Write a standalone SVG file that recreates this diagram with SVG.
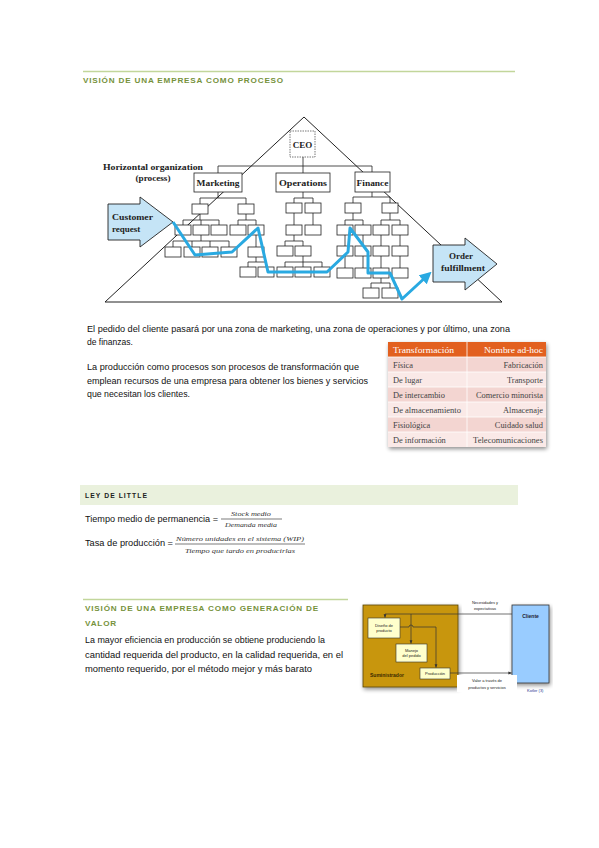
<svg xmlns="http://www.w3.org/2000/svg" width="599" height="848" viewBox="0 0 599 848">
<style>
.title{font-family:"Liberation Sans",Arial,sans-serif;font-size:8px;font-weight:bold;fill:#76923c;letter-spacing:0.8px}
.body{font-family:"Liberation Sans",Arial,sans-serif;font-size:8.8px;fill:#111}
.serifb{font-family:"Liberation Serif","Times New Roman",serif;font-weight:bold;fill:#222}
.b{fill:#fff;stroke:#222;stroke-width:0.8}
.c{stroke:#222;stroke-width:0.8;fill:none}
.tb{font-family:"Liberation Serif","Times New Roman",serif;font-size:8.4px;fill:#444}
.th{font-family:"Liberation Serif","Times New Roman",serif;font-size:8.8px;fill:#fff}
.fr{font-family:"Liberation Serif","Times New Roman",serif;font-size:6.4px;font-style:italic;fill:#333}
.tiny{font-family:"Liberation Sans",Arial,sans-serif;font-size:4px;fill:#222;text-anchor:middle}
.ln{stroke:#333;stroke-width:0.7;fill:none}
</style>
<defs>
<marker id="blueArrow" viewBox="0 0 10 10" refX="6" refY="5" markerWidth="4" markerHeight="4" orient="auto">
<path d="M0,0 L10,5 L0,10 Z" fill="#29a9e1"/>
</marker>
<marker id="smallArrow" viewBox="0 0 10 10" refX="9" refY="5" markerWidth="5" markerHeight="5" orient="auto">
<path d="M0,1 L10,5 L0,9 Z" fill="#333"/>
</marker>
<filter id="shadow" x="-10%" y="-10%" width="120%" height="120%">
<feGaussianBlur in="SourceAlpha" stdDeviation="2"/>
<feOffset dx="1" dy="1.5" result="o"/>
<feComponentTransfer><feFuncA type="linear" slope="0.45"/></feComponentTransfer>
<feMerge><feMergeNode/><feMergeNode in="SourceGraphic"/></feMerge>
</filter>
</defs>
<rect width="599" height="848" fill="#fff"/>

<!-- Section 1 header -->
<g id="header1">
<line x1="83" y1="71.5" x2="515" y2="71.5" stroke="#c2d69b" stroke-width="1.6"/>
<text class="title" x="83" y="83" textLength="201" lengthAdjust="spacingAndGlyphs">VISIÓN DE UNA EMPRESA COMO PROCESO</text>
</g>

<!-- Pyramid figure -->
<g id="pyramid">
<path d="M304,117 L105,302 L502,302 Z" fill="none" stroke="#222" stroke-width="1"/>
</g>

<g id="connectors">
<path class="c" d="M303,157 V166 M218,166 H372 M218,166 V173 M303,166 V173 M372,166 V172"/>
<path class="c" d="M218,192 V198 M200,198 H246 M200,198 V204 M246,198 V204
M200,214 V220 M183,220 H219 M183,220 V225 M201,220 V225 M219,220 V225
M246,214 V220 M238,220 H256 M238,220 V225 M256,220 V225
M201,235 V241 M173,241 H229 M173,241 V247 M192,241 V247 M210,241 V247 M229,241 V247
M256,235 V247
M256,257 V262 M248,262 H266 M248,262 V267 M266,262 V267"/>
<path class="c" d="M303,192 V198 M294,198 H313 M294,198 V203 M313,198 V203
M294,213 V225 M313,213 V225
M294,235 V241 M285,241 H303 M285,241 V246 M303,241 V246
M303,256 V262 M285,262 H322 M285,262 V267 M303,262 V267 M322,262 V267"/>
<path class="c" d="M372,192 V197 M353,197 H390 M353,197 V203 M390,197 V203
M353,213 V220 M345,220 H363 M345,220 V225 M363,220 V225
M390,213 V220 M381,220 H400 M381,220 V225 M400,220 V225
M345,235 V246 M363,235 V246 M381,235 V246 M400,235 V246
M345,256 V268 M363,256 V268 M381,256 V268 M400,256 V268
M381,278 V283 M371,283 H390 M371,283 V288 M390,283 V288"/>
</g>

<g id="ceo">
<rect x="290" y="131" width="25" height="26" fill="#fff" stroke="#555" stroke-width="0.8" stroke-dasharray="1.5,1"/>
<text class="serifb" x="302.5" y="148" font-size="9" text-anchor="middle">CEO</text>
</g>
<g id="marketing">
<rect class="b" x="194" y="173" width="48" height="19"/>
<text class="serifb" x="218" y="186" font-size="9" text-anchor="middle" textLength="43" lengthAdjust="spacingAndGlyphs">Marketing</text>
</g>
<g id="operations">
<rect class="b" x="276" y="173" width="54" height="19"/>
<text class="serifb" x="303" y="186" font-size="9" text-anchor="middle" textLength="48" lengthAdjust="spacingAndGlyphs">Operations</text>
</g>
<g id="finance">
<rect class="b" x="355" y="172" width="35" height="20"/>
<text class="serifb" x="372.5" y="186" font-size="9" text-anchor="middle" textLength="32" lengthAdjust="spacingAndGlyphs">Finance</text>
</g>

<g id="org-boxes">
<rect class="b" x="192" y="204" width="16" height="10"/>
<rect class="b" x="238" y="204" width="16" height="10"/>
<rect class="b" x="175" y="225" width="16" height="10"/>
<rect class="b" x="193" y="225" width="16" height="10"/>
<rect class="b" x="211" y="225" width="16" height="10"/>
<rect class="b" x="230" y="225" width="16" height="10"/>
<rect class="b" x="248" y="225" width="16" height="10"/>
<rect class="b" x="165" y="247" width="16" height="10"/>
<rect class="b" x="184" y="247" width="16" height="10"/>
<rect class="b" x="202" y="247" width="16" height="10"/>
<rect class="b" x="221" y="247" width="16" height="10"/>
<rect class="b" x="248" y="247" width="16" height="10"/>
<rect class="b" x="240" y="267" width="16" height="10"/>
<rect class="b" x="258" y="267" width="16" height="10"/>

<rect class="b" x="286" y="203" width="16" height="10"/>
<rect class="b" x="305" y="203" width="16" height="10"/>
<rect class="b" x="286" y="225" width="16" height="10"/>
<rect class="b" x="305" y="225" width="16" height="10"/>
<rect class="b" x="277" y="246" width="16" height="10"/>
<rect class="b" x="295" y="246" width="16" height="10"/>
<rect class="b" x="277" y="267" width="16" height="10"/>
<rect class="b" x="295" y="267" width="16" height="10"/>
<rect class="b" x="314" y="267" width="16" height="10"/>

<rect class="b" x="345" y="203" width="16" height="10"/>
<rect class="b" x="382" y="203" width="16" height="10"/>
<rect class="b" x="337" y="225" width="16" height="10"/>
<rect class="b" x="355" y="225" width="16" height="10"/>
<rect class="b" x="373" y="225" width="16" height="10"/>
<rect class="b" x="392" y="225" width="16" height="10"/>
<rect class="b" x="337" y="246" width="16" height="10"/>
<rect class="b" x="355" y="246" width="16" height="10"/>
<rect class="b" x="373" y="246" width="16" height="10"/>
<rect class="b" x="392" y="246" width="16" height="10"/>
<rect class="b" x="337" y="268" width="16" height="10"/>
<rect class="b" x="355" y="268" width="16" height="10"/>
<rect class="b" x="373" y="268" width="16" height="10"/>
<rect class="b" x="392" y="268" width="16" height="10"/>
<rect class="b" x="363" y="288" width="16" height="10"/>
<rect class="b" x="382" y="288" width="16" height="10"/>
</g>

<g id="horizontal-label">
<text class="serifb" x="103" y="170" font-size="9.2" textLength="100" lengthAdjust="spacingAndGlyphs">Horizontal organization</text>
<text class="serifb" x="153" y="181" font-size="9.2" text-anchor="middle">(process)</text>
</g>

<g id="customer-request">
<path d="M108,204 H140 V197 L173,222 L140,247 V240 H108 Z" fill="#c5e4f6" stroke="#222" stroke-width="0.9"/>
<text class="serifb" x="112" y="220" font-size="9" textLength="41" lengthAdjust="spacingAndGlyphs">Customer</text>
<text class="serifb" x="112" y="232" font-size="9">request</text>
</g>

<g id="order-fulfillment">
<path d="M433,245 H465 V238 L497,264 L465,290 V282 H433 Z" fill="#c5e4f6" stroke="#222" stroke-width="0.9"/>
<text class="serifb" x="461" y="259" font-size="9" text-anchor="middle">Order</text>
<text class="serifb" x="463" y="271" font-size="9" text-anchor="middle" textLength="44" lengthAdjust="spacingAndGlyphs">fulfillment</text>
</g>

<g id="process-path">
<polyline points="173,222 195,255 232,252 258,228 268,272 327,272 348,252 350,228 368,252 368,273 390,273 402,299 428,275" fill="none" stroke="#29a9e1" stroke-width="3" stroke-linejoin="round" marker-end="url(#blueArrow)"/>
</g>

<!-- Paragraphs -->
<g id="para1">
<text class="body" x="87" y="332" textLength="423" lengthAdjust="spacingAndGlyphs">El pedido del cliente pasará por una zona de marketing, una zona de operaciones y por último, una zona</text>
<text class="body" x="87" y="345" textLength="46" lengthAdjust="spacingAndGlyphs">de finanzas.</text>
</g>
<g id="para2">
<text class="body" x="87" y="370" textLength="272" lengthAdjust="spacingAndGlyphs">La producción como procesos son procesos de transformación que</text>
<text class="body" x="87" y="384" textLength="281" lengthAdjust="spacingAndGlyphs">emplean recursos de una empresa para obtener los bienes y servicios</text>
<text class="body" x="87" y="397" textLength="103" lengthAdjust="spacingAndGlyphs">que necesitan los clientes.</text>
</g>

<!-- Table -->
<g id="table">
<g filter="url(#shadow)">
<rect x="388" y="342" width="158" height="105" fill="#fae9e7"/>
</g>
<rect x="388" y="342" width="158" height="15" fill="#e2601f"/>
<rect x="388" y="357" width="158" height="15" fill="#f3d5d1"/>
<rect x="388" y="372" width="158" height="15" fill="#fae9e7"/>
<rect x="388" y="387" width="158" height="15" fill="#f3d5d1"/>
<rect x="388" y="402" width="158" height="15" fill="#fae9e7"/>
<rect x="388" y="417" width="158" height="15" fill="#f3d5d1"/>
<rect x="388" y="432" width="158" height="15" fill="#fae9e7"/>
<path d="M388,357 H546 M388,372 H546 M388,387 H546 M388,402 H546 M388,417 H546 M388,432 H546 M467,342 V447" stroke="#fff" stroke-width="0.8"/>
<text class="th" x="393" y="353" textLength="61" lengthAdjust="spacingAndGlyphs">Transformación</text>
<text class="th" x="543" y="353" text-anchor="end" textLength="59" lengthAdjust="spacingAndGlyphs">Nombre ad-hoc</text>
<text class="tb" x="393" y="368">Física</text>
<text class="tb" x="543" y="368" text-anchor="end">Fabricación</text>
<text class="tb" x="393" y="383">De lugar</text>
<text class="tb" x="543" y="383" text-anchor="end">Transporte</text>
<text class="tb" x="393" y="398">De intercambio</text>
<text class="tb" x="543" y="398" text-anchor="end" textLength="67" lengthAdjust="spacingAndGlyphs">Comercio minorista</text>
<text class="tb" x="393" y="413" textLength="68" lengthAdjust="spacingAndGlyphs">De almacenamiento</text>
<text class="tb" x="543" y="413" text-anchor="end">Almacenaje</text>
<text class="tb" x="393" y="428">Fisiológica</text>
<text class="tb" x="543" y="428" text-anchor="end">Cuidado salud</text>
<text class="tb" x="393" y="443">De información</text>
<text class="tb" x="543" y="443" text-anchor="end" textLength="70" lengthAdjust="spacingAndGlyphs">Telecomunicaciones</text>
</g>

<!-- Ley de Little -->
<g id="little-header">
<rect x="80" y="485" width="438" height="20" fill="#eaf1dd"/>
<text x="85" y="498" font-family="'Liberation Sans',Arial,sans-serif" font-size="7.6" font-weight="bold" fill="#222" letter-spacing="1.2" textLength="63" lengthAdjust="spacingAndGlyphs">LEY DE LITTLE</text>
</g>
<g id="formula1">
<text class="body" x="85" y="522" textLength="133" lengthAdjust="spacingAndGlyphs">Tiempo medio de permanencia =</text>
<text class="fr" x="251" y="516" text-anchor="middle" textLength="40" lengthAdjust="spacingAndGlyphs">Stock medio</text>
<line x1="221" y1="519" x2="282" y2="519" stroke="#222" stroke-width="0.6"/>
<text class="fr" x="251" y="527" text-anchor="middle" textLength="52" lengthAdjust="spacingAndGlyphs">Demanda media</text>
</g>
<g id="formula2">
<text class="body" x="85" y="546" textLength="88" lengthAdjust="spacingAndGlyphs">Tasa de producción =</text>
<text class="fr" x="240" y="541" text-anchor="middle" textLength="128" lengthAdjust="spacingAndGlyphs">Número unidades en el sistema (WIP)</text>
<line x1="175" y1="544" x2="305" y2="544" stroke="#222" stroke-width="0.6"/>
<text class="fr" x="240" y="553" text-anchor="middle" textLength="110" lengthAdjust="spacingAndGlyphs">Tiempo que tardo en producirlas</text>
</g>

<!-- Section 3 -->
<g id="header3">
<line x1="83" y1="599.5" x2="348" y2="599.5" stroke="#c2d69b" stroke-width="1.6"/>
<text class="title" x="85" y="611" textLength="234" lengthAdjust="spacingAndGlyphs">VISIÓN DE UNA EMPRESA COMO GENERACIÓN DE</text>
<text class="title" x="85" y="626" textLength="32" lengthAdjust="spacingAndGlyphs">VALOR</text>
</g>
<g id="para3">
<text class="body" x="85" y="643" textLength="240" lengthAdjust="spacingAndGlyphs">La mayor eficiencia en producción se obtiene produciendo la</text>
<text class="body" x="85" y="658" textLength="258" lengthAdjust="spacingAndGlyphs">cantidad requerida del producto, en la calidad requerida, en el</text>
<text class="body" x="85" y="672" textLength="227" lengthAdjust="spacingAndGlyphs">momento requerido, por el método mejor y más barato</text>
</g>

<!-- Value chain diagram -->
<g id="suministrador">
<rect x="363" y="605" width="95" height="82" fill="#c8960c" stroke="#5a4500" stroke-width="0.8" filter="url(#shadow)"/>
<text x="370" y="677" font-family="'Liberation Sans',Arial,sans-serif" font-size="5" font-weight="bold" fill="#3a2a00">Suministrador</text>
</g>
<g id="cliente">
<rect x="512" y="605" width="37" height="78" fill="#99ccff" stroke="#333" stroke-width="0.8" filter="url(#shadow)"/>
<text x="530.5" y="618" font-family="'Liberation Sans',Arial,sans-serif" font-size="5" font-weight="bold" fill="#223" text-anchor="middle">Cliente</text>
</g>
<g id="vc-connectors">
<path class="ln" d="M512,614 H385 V617.5" marker-end="url(#smallArrow)"/>
<path class="ln" d="M411,614 V643.5" marker-end="url(#smallArrow)"/>
<path class="ln" d="M400,627 H409 A2,2 0 0 1 413,627 H436 V667.5" marker-end="url(#smallArrow)"/>
<path class="ln" d="M450,673 H511.5" marker-end="url(#smallArrow)"/>
</g>
<g id="diseno">
<rect x="368" y="618" width="32" height="20" fill="#ffffcc" stroke="#333" stroke-width="0.6"/>
<text class="tiny" x="384" y="627">Diseño de</text>
<text class="tiny" x="384" y="632">producto</text>
</g>
<g id="manejo">
<rect x="396" y="644" width="31" height="18" fill="#ffffcc" stroke="#333" stroke-width="0.6"/>
<text class="tiny" x="411.5" y="652">Manejo</text>
<text class="tiny" x="411.5" y="657">del pedido</text>
</g>
<g id="produccion">
<rect x="420" y="668" width="30" height="11" fill="#ffffcc" stroke="#333" stroke-width="0.6"/>
<text class="tiny" x="435" y="675">Producción</text>
</g>
<g id="label-necesidades">
<rect x="462" y="598" width="46" height="14" fill="#fff"/>
<text class="tiny" x="485" y="604">Necesidades y</text>
<text class="tiny" x="485" y="610">expectativas</text>
</g>
<g id="label-valor">
<rect x="457" y="675" width="60" height="17" fill="#fff"/>
<text class="tiny" x="487" y="682">Valor a través de</text>
<text class="tiny" x="487" y="689">productos y servicios</text>
</g>
<text x="527" y="692" font-family="'Liberation Sans',Arial,sans-serif" font-size="4" fill="#1f3a93">Kotler (3)</text>
</svg>
